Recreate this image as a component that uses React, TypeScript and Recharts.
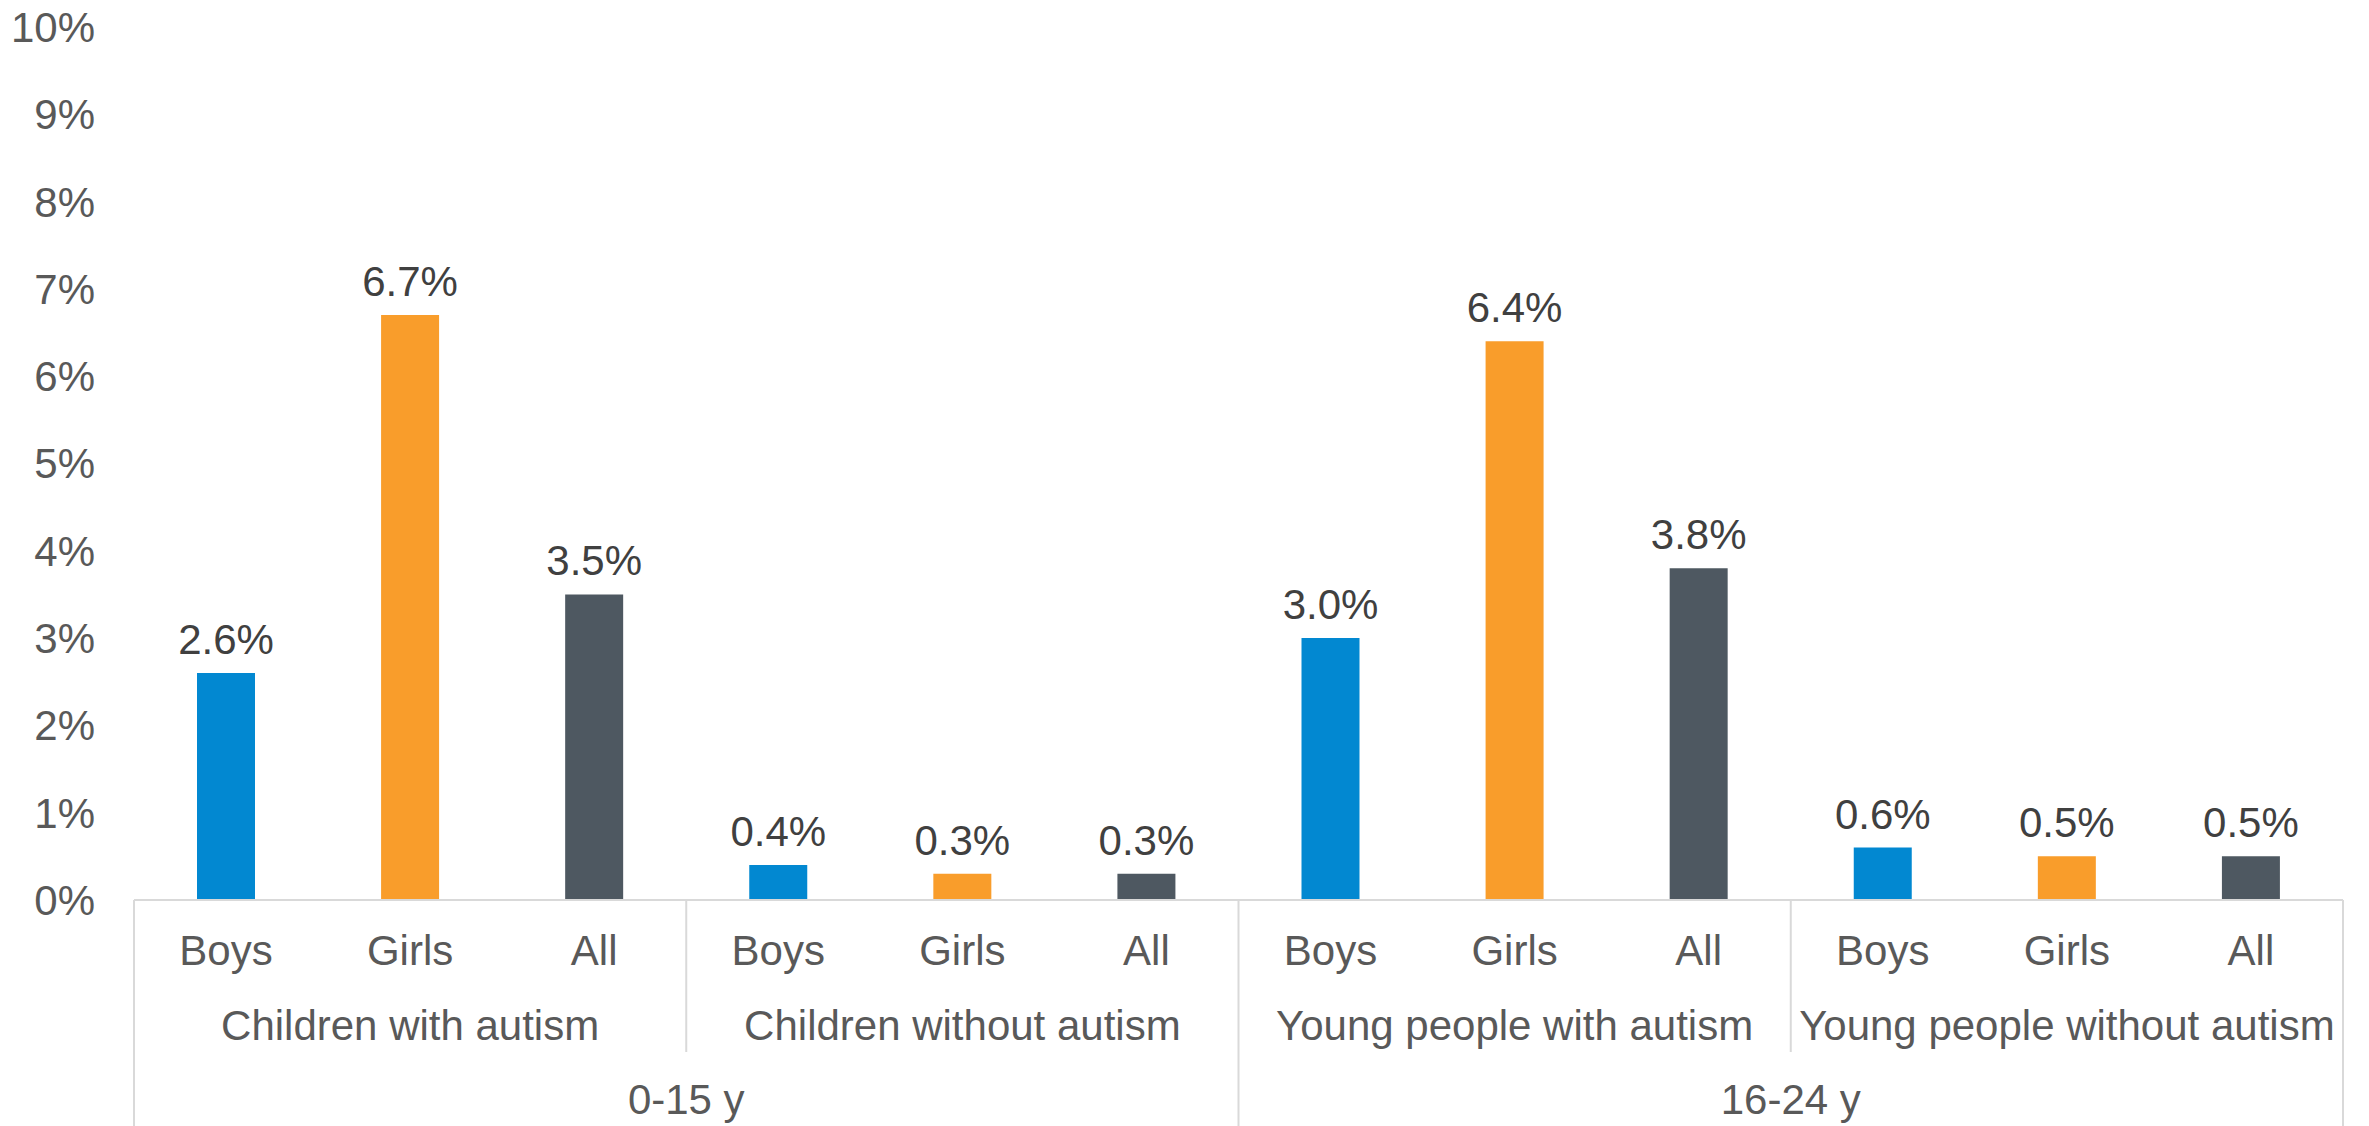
import React from 'react';
import { BarChart, Bar, XAxis, YAxis, Cell, LabelList } from 'recharts';

const SUB_LABELS = ['Boys', 'Girls', 'All', 'Boys', 'Girls', 'All', 'Boys', 'Girls', 'All', 'Boys', 'Girls', 'All'];
const GROUP_LABELS = ['Children with autism', 'Children without autism', 'Young people with autism', 'Young people without autism'];
const AGE_LABELS = ['0-15 y', '16-24 y'];
const VALUES = [2.6, 6.7, 3.5, 0.4, 0.3, 0.3, 3.0, 6.4, 3.8, 0.6, 0.5, 0.5];
const Y_TICKS = [0, 1, 2, 3, 4, 5, 6, 7, 8, 9, 10];

const COLORS: Record<string, string> = { Boys: '#0288D1', Girls: '#F99D2B', All: '#4E5861' };

const W = 2369;
const H = 1126;
const MARGIN = { top: 27, right: 26, bottom: 0, left: 0 };
const Y_AXIS_W = 134;
const X_AXIS_H = 226;
const PLOT_W = W - MARGIN.left - MARGIN.right - Y_AXIS_W;
const BAND = PLOT_W / VALUES.length;
const FONT = '"Liberation Sans", Arial, sans-serif';
const LINE = '#D9D9D9';

const data = VALUES.map((v, i) => ({
  key: String(i),
  sub: SUB_LABELS[i],
  group: GROUP_LABELS[Math.floor(i / 3)],
  age: AGE_LABELS[Math.floor(i / 6)],
  value: v,
}));

const MultiTick = (props: any) => {
  const { x, y, index } = props;
  const d = data[index];
  if (!d) return null;
  const els: React.ReactNode[] = [];
  els.push(
    <text key="s" x={x} y={y + 65} textAnchor="middle" fontSize={42} fill="#595959" fontFamily={FONT}>
      {d.sub}
    </text>
  );
  if (index % 3 === 1) {
    els.push(
      <text key="g" x={x} y={y + 140} textAnchor="middle" fontSize={42} fill="#595959" fontFamily={FONT}>
        {d.group}
      </text>
    );
  }
  if (index % 6 === 2) {
    els.push(
      <text key="a" x={x + BAND / 2} y={y + 214} textAnchor="middle" fontSize={42} fill="#595959" fontFamily={FONT}>
        {d.age}
      </text>
    );
  }
  if (index % 3 === 0) {
    const full = index % 6 === 0;
    els.push(
      <line key="l" x1={x - BAND / 2} x2={x - BAND / 2} y1={y} y2={full ? H : y + 152} stroke={LINE} strokeWidth={2} />
    );
  }
  if (index === VALUES.length - 1) {
    els.push(<line key="r" x1={x + BAND / 2} x2={x + BAND / 2} y1={y} y2={H} stroke={LINE} strokeWidth={2} />);
  }
  return <g>{els}</g>;
};

export default function App() {
  return (
    <div style={{ position: 'absolute', left: 0, top: 0, width: W, height: H, background: '#fff' }}>
      <BarChart width={W} height={H} data={data} margin={MARGIN}>
        <XAxis
          dataKey="key"
          height={X_AXIS_H}
          interval={0}
          tickLine={false}
          tickSize={0}
          tickMargin={0}
          axisLine={{ stroke: LINE, strokeWidth: 2 }}
          tick={<MultiTick />}
        />
        <YAxis
          width={Y_AXIS_W}
          domain={[0, 10]}
          ticks={Y_TICKS}
          interval={0}
          axisLine={false}
          tickLine={false}
          tickSize={0}
          tickMargin={39}
          tickFormatter={(v: number) => `${v}%`}
          tick={{ fontSize: 42, fill: '#595959', fontFamily: FONT }}
        />
        <Bar dataKey="value" barSize={58} isAnimationActive={false}>
          {data.map((d, i) => (
            <Cell key={i} fill={COLORS[d.sub]} />
          ))}
          <LabelList
            dataKey="value"
            position="top"
            offset={19}
            formatter={(v: number) => `${Number(v).toFixed(1)}%`}
            style={{ fontSize: 42, fill: '#404040', fontFamily: FONT }}
          />
        </Bar>
      </BarChart>
    </div>
  );
}
